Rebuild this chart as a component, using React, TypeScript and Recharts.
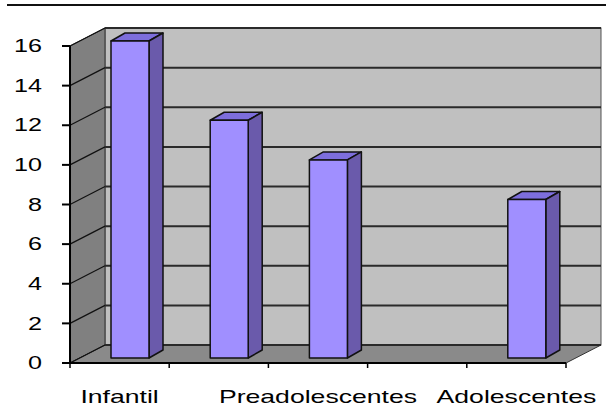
import React from 'react';
import { BarChart, Bar, XAxis, YAxis, CartesianGrid, ReferenceArea } from 'recharts';

const categories = ['Infantil', '', 'Preadolescentes', '', 'Adolescentes'];
const values = [16, 12, 10, null, 8];
const yTicks = [0, 2, 4, 6, 8, 10, 12, 14, 16];

const data = categories.map((name, i) => ({ name, value: values[i] }));

// depth of the fake 3d box
const DX = 35;
const DY = -18;
// bars sit a bit behind the front edge
const BAR_DX = 10;
const BAR_DY = -5;
const BAR_DEPTH_X = 14;
const BAR_DEPTH_Y = -8;

const FONT = '"Liberation Sans", Arial, sans-serif';
const STRETCH = 1.4;

const Walls = (props: any) => {
  const { x, y, width, height } = props;
  const b = y + height;
  return (
    <g>
      <rect x={x + DX} y={y + DY} width={width} height={height} fill="#c0c0c0" stroke="#555" strokeWidth={1} />
      <polygon
        points={`${x},${b} ${x},${y} ${x + DX},${y + DY} ${x + DX},${b + DY}`}
        fill="#808080"
        stroke="#333"
        strokeWidth={1}
      />
      <polygon
        points={`${x},${b} ${x + width},${b} ${x + width + DX},${b + DY} ${x + DX},${b + DY}`}
        fill="#8a8a8a"
        stroke="#333"
        strokeWidth={1}
      />
    </g>
  );
};

const gridLine = (p: any) => (
  <g key={p.key}>
    <line x1={p.x1} y1={p.y1} x2={p.x1 + DX} y2={p.y1 + DY} stroke="#111" strokeWidth={1.2} />
    <line x1={p.x1 + DX} y1={p.y1 + DY} x2={p.x2 + DX} y2={p.y1 + DY} stroke="#2a2a2a" strokeWidth={2} />
  </g>
);

const Bar3D = (props: any) => {
  const { x, y, width, height } = props;
  if (!height || height <= 0) return null;
  const bx = x + BAR_DX;
  const by = y + BAR_DY;
  const r = bx + width;
  return (
    <g stroke="#111" strokeWidth={1.5} strokeLinejoin="round">
      <polygon
        points={`${bx},${by} ${bx + BAR_DEPTH_X},${by + BAR_DEPTH_Y} ${r + BAR_DEPTH_X},${by + BAR_DEPTH_Y} ${r},${by}`}
        fill="#7d6edc"
      />
      <polygon
        points={`${r},${by} ${r + BAR_DEPTH_X},${by + BAR_DEPTH_Y} ${r + BAR_DEPTH_X},${by + height + BAR_DEPTH_Y} ${r},${by + height}`}
        fill="#6a5aab"
      />
      <rect x={bx} y={by} width={width} height={height} fill="#a08fff" />
    </g>
  );
};

const YTick = (props: any) => {
  const { x, y, payload } = props;
  return (
    <text
      transform={`translate(${x},${y}) scale(${STRETCH},1)`}
      textAnchor="end"
      dominantBaseline="central"
      fontFamily={FONT}
      fontSize={18}
      fill="#000"
    >
      {payload.value}
    </text>
  );
};

const XTick = (props: any) => {
  const { x, y, payload, index, visibleTicksCount } = props;
  const off = payload.offset || 0;
  const last = index === visibleTicksCount - 1;
  return (
    <g>
      <line x1={x - off} y1={y} x2={x - off} y2={y + 5} stroke="#000" strokeWidth={1.5} />
      {last && <line x1={x + off} y1={y} x2={x + off} y2={y + 5} stroke="#000" strokeWidth={1.5} />}
      {payload.value && (
        <text
          transform={`translate(${x},${y + 33}) scale(${STRETCH},1)`}
          textAnchor="middle"
          dominantBaseline="central"
          fontFamily={FONT}
          fontSize={19}
          fill="#000"
        >
          {payload.value}
        </text>
      )}
    </g>
  );
};

export default function App() {
  return (
    <div style={{ position: 'absolute', left: 0, top: 0, width: 606, height: 419, background: '#fff' }}>
      <div style={{ position: 'absolute', left: 7, top: 4, width: 599, height: 2, background: '#111' }} />
      <BarChart
        width={606}
        height={419}
        data={data}
        margin={{ top: 46, right: 40, bottom: 16, left: 10 }}
        barSize={38}
      >
        <ReferenceArea y1={0} y2={16} shape={<Walls />} ifOverflow="visible" zIndex={-200} />
        <CartesianGrid vertical={false} horizontal={gridLine} fill="none" zIndex={-100} />
        <XAxis
          dataKey="name"
          interval={0}
          height={40}
          tickLine={false}
          tickSize={0}
          tickMargin={0}
          axisLine={{ stroke: '#000', strokeWidth: 2 }}
          tick={<XTick />}
        />
        <YAxis
          domain={[0, 16]}
          ticks={yTicks}
          width={60}
          tickSize={8}
          tickMargin={20}
          tickLine={{ stroke: '#000', strokeWidth: 2 }}
          axisLine={{ stroke: '#000', strokeWidth: 2 }}
          tick={<YTick />}
        />
        <Bar dataKey="value" isAnimationActive={false} shape={<Bar3D />} />
      </BarChart>
    </div>
  );
}
